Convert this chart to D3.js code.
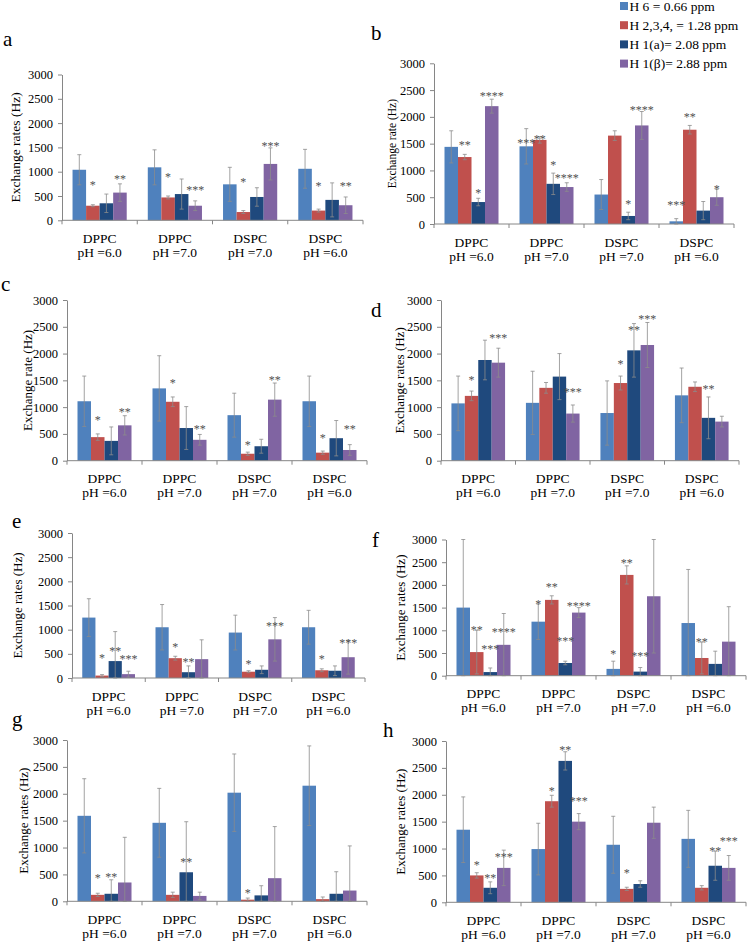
<!DOCTYPE html>
<html><head><meta charset="utf-8">
<script src="https://cdn.jsdelivr.net/npm/d3@7"></script>
<style>body{margin:0;background:#fff}</style>
</head><body>
<svg id="chart" width="750" height="942"></svg>
<script>
// ---------------- DATA ----------------
const categories = [["DPPC","pH =6.0"],["DPPC","pH =7.0"],["DSPC","pH =7.0"],["DSPC","pH =6.0"]];
const seriesNames = ["H 6 = 0.66 ppm","H 2,3,4, = 1.28 ppm","H 1(a)= 2.08 ppm","H 1(β)= 2.88 ppm"];
const yTicks = [0,500,1000,1500,2000,2500,3000];

// values[category][series] in Hz, errors same shape, stars: [category, series, label, level(Hz)]
const valuesA = [[1040,300,350,570],[1090,470,540,300],[740,170,480,1160],[1060,200,420,310]];
const errorsA = [[310,20,190,180],[360,30,310,100],[350,30,190,330],[400,30,350,170]];
const starsA  = [[0,1,"*",760],[0,3,"**",900],[1,1,"*",930],[1,3,"***",670],[2,1,"*",830],[2,3,"***",1570],[3,1,"*",740],[3,3,"**",740]];

const valuesB = [[1440,1250,410,2200],[1450,1570,750,690],[550,1650,150,1840],[50,1760,250,500]];
const errorsB = [[300,50,70,130],[330,60,200,80],[280,90,70,260],[50,80,170,150]];
const starsB  = [[0,1,"**",1506],[0,2,"*",622],[0,3,"****",2427],[1,0,"***",1550],[1,1,"**",1618],[1,2,"*",1133],[1,3,"****",902],[2,2,"*",417],[2,3,"****",2172],[3,0,"***",386],[3,1,"**",2035],[3,3,"*",697]];

const valuesC = [[1110,440,370,660],[1350,1100,610,390],[850,130,270,1140],[1110,150,420,200]];
const errorsC = [[470,60,260,180],[610,90,400,100],[410,30,130,310],[470,30,330,100]];
const starsC  = [[0,1,"*",800],[0,3,"**",950],[1,1,"*",1490],[1,3,"**",620],[2,1,"*",330],[2,3,"**",1553],[3,1,"*",470],[3,3,"**",637]];

const valuesD = [[1070,1210,1880,1830],[1080,1360,1570,880],[890,1450,2060,2160],[1220,1380,800,730]];
const errorsD = [[510,90,370,270],[590,100,430,160],[600,130,500,420],[510,90,390,100]];
const starsD  = [[0,1,"*",1545],[0,3,"***",2331],[1,3,"***",1329],[2,1,"*",1836],[2,2,"**",2486],[2,3,"***",2678],[3,2,"**",1378]];

const valuesE = [[1250,50,350,80],[1050,410,120,390],[940,130,170,800],[1050,160,150,430]];
const errorsE = [[390,20,610,60],[470,40,130,400],[360,20,80,450],[350,30,100,350]];
const starsE  = [[0,1,"*",448],[0,2,"**",607],[0,3,"***",428],[1,1,"*",676],[1,2,"**",380],[2,1,"*",331],[2,3,"***",1125],[3,1,"*",428],[3,3,"***",773]];

const valuesF = [[1500,520,80,680],[1190,1670,280,1390],[150,2220,90,1750],[1160,390,260,750]];
const errorsF = [[1500,480,90,690],[390,90,40,110],[170,200,90,1250],[1180,350,280,770]];
const starsF  = [[0,1,"**",1040],[0,2,"***",637],[0,3,"****",1003],[1,0,"*",1625],[1,1,"**",2007],[1,2,"***",798],[1,3,"****",1588],[2,0,"*",527],[2,1,"**",2536],[2,2,"***",470],[3,1,"**",783]];

const valuesG = [[1590,120,140,350],[1460,120,540,100],[2020,30,110,430],[2150,40,140,200]];
const errorsG = [[690,30,260,840],[640,50,940,70],[720,30,180,960],[740,40,410,830]];
const starsG  = [[0,1,"*",470],[0,2,"**",489],[1,2,"**",767],[2,1,"*",198]];

const valuesH = [[1350,500,270,640],[990,1880,2630,1500],[1070,250,340,1480],[1180,270,680,640]];
const errorsH = [[610,50,110,330],[480,110,170,150],[530,30,60,290],[530,40,270,230]];
const starsH  = [[0,1,"*",728],[0,2,"**",491],[0,3,"***",883],[1,1,"*",2115],[1,2,"**",2874],[1,3,"***",1928],[2,1,"*",591],[3,2,"**",989],[3,3,"***",1176]];

// ---------------- STYLE / LAYOUT ----------------
const colors = ["#4F81BD","#C0504D","#1F497D","#8064A2"];
const FONT = "Liberation Serif, Times New Roman, Times, serif";

const panels = [
 {letter:"a", v:valuesA, e:errorsA, s:starsA, title:"Exchange rates (Hz)", x0:62, x1:363, yZero:220.3, yTop:74.5, tX:15, tSize:13.5, lX:3, lY:46},
 {letter:"b", v:valuesB, e:errorsB, s:starsB, title:"Exchange rate (Hz)", x0:434, x1:734, yZero:224, yTop:63.3, tX:392, tSize:11.5, lX:371, lY:40},
 {letter:"c", v:valuesC, e:errorsC, s:starsC, title:"Exchange rate (Hz)", x0:67, x1:367, yZero:460.7, yTop:300, tX:27, tSize:13, lX:1, lY:291},
 {letter:"d", v:valuesD, e:errorsD, s:starsD, title:"Exchange rates (Hz)", x0:441, x1:739, yZero:460.7, yTop:300, tX:399, tSize:13, lX:371, lY:317},
 {letter:"e", v:valuesE, e:errorsE, s:starsE, title:"Exchange rates (Hz)", x0:72, x1:365, yZero:678, yTop:533, tX:17, tSize:13, lX:12, lY:528},
 {letter:"f", v:valuesF, e:errorsF, s:starsF, title:"Exchange rates (Hz)", x0:446, x1:746, yZero:675.7, yTop:539.5, tX:400, tSize:13, lX:372, lY:547},
 {letter:"g", v:valuesG, e:errorsG, s:starsG, title:"Exchange rates (Hz)", x0:67, x1:367, yZero:901.3, yTop:740, tX:23, tSize:13, lX:12, lY:726},
 {letter:"h", v:valuesH, e:errorsH, s:starsH, title:"Exchange rates (Hz)", x0:446, x1:746, yZero:902.3, yTop:741, tX:400, tSize:13, lX:383, lY:737}
];

const svg = d3.select("#chart");
svg.append("rect").attr("width",750).attr("height",942).attr("fill","#fff");

function drawPanel(p){
  const g = svg.append("g").attr("class","panel-"+p.letter);
  const x = d3.scaleBand().domain(d3.range(categories.length)).range([p.x0,p.x1]);
  const W = x.bandwidth();
  const xs = d3.scaleBand().domain(d3.range(seriesNames.length)).range([W*0.14, W*0.86]);
  const y = d3.scaleLinear().domain([0,3000]).range([p.yZero,p.yTop]);

  // y axis
  const ya = g.append("g").attr("transform",`translate(${p.x0},0)`)
    .call(d3.axisLeft(y).tickValues(yTicks).tickFormat(d3.format("d"))
      .tickSize(4).tickSizeOuter(0).tickPadding(5));
  ya.select(".domain").attr("stroke","#868686");
  ya.selectAll(".tick line").attr("stroke","#868686");
  ya.selectAll(".tick text").attr("font-family",FONT).attr("font-size",12.5).attr("fill","#000");

  // bars
  categories.forEach((c,ci)=>{
    const cg = g.append("g").attr("transform",`translate(${x(ci)},0)`);
    seriesNames.forEach((sn,si)=>{
      const val = p.v[ci][si];
      cg.append("rect").attr("x",xs(si)).attr("width",xs.bandwidth())
        .attr("y",y(val)).attr("height",y(0)-y(val)).attr("fill",colors[si]);
    });
    seriesNames.forEach((sn,si)=>{
      const val = p.v[ci][si], er = p.e[ci][si];
      const cx = xs(si)+xs.bandwidth()/2;
      const lo = Math.max(0,val-er), hi = val+er;
      cg.append("line").attr("x1",cx).attr("x2",cx).attr("y1",y(lo)).attr("y2",y(hi))
        .attr("stroke","#8c8c8c").attr("stroke-width",0.8);
      [hi, lo].forEach(vv=>{
        cg.append("line").attr("x1",cx-2).attr("x2",cx+2).attr("y1",y(vv)).attr("y2",y(vv))
          .attr("stroke","#8c8c8c").attr("stroke-width",0.8);
      });
    });
  });

  // x axis line and ticks
  g.append("line").attr("x1",p.x0).attr("x2",p.x1).attr("y1",y(0)).attr("y2",y(0))
    .attr("stroke","#868686").attr("stroke-width",1);
  d3.range(categories.length+1).forEach(i=>{
    const xx = p.x0 + i*W;
    g.append("line").attr("x1",xx).attr("x2",xx).attr("y1",y(0)).attr("y2",y(0)+4)
      .attr("stroke","#868686");
  });

  // stars
  p.s.forEach(([ci,si,lab,lvl])=>{
    g.append("text").attr("x",x(ci)+xs(si)+xs.bandwidth()/2).attr("y",y(lvl)+6)
      .attr("text-anchor","middle").attr("font-family",FONT).attr("font-size",12)
      .attr("fill","#505050").text(lab);
  });

  // category labels
  categories.forEach((c,ci)=>{
    const cx = x(ci)+W/2;
    c.forEach((line,li)=>{
      g.append("text").attr("x",cx).attr("y",y(0)+22.5+li*14).attr("text-anchor","middle")
        .attr("font-family",FONT).attr("font-size",13.5).attr("fill","#000").text(line);
    });
  });

  // y title
  const ym = (y(0)+y(3000))/2;
  g.append("text").attr("transform",`translate(${p.tX},${ym}) rotate(-90)`)
    .attr("text-anchor","middle").attr("dominant-baseline","central")
    .attr("font-family",FONT).attr("font-size",p.tSize).attr("fill","#000").text(p.title);

  // panel letter
  g.append("text").attr("x",p.lX).attr("y",p.lY).attr("font-family",FONT)
    .attr("font-size",21).attr("fill","#000").text(p.letter);
}
panels.forEach(drawPanel);

// legend
const leg = svg.append("g").attr("class","legend");
seriesNames.forEach((n,i)=>{
  const cy = 6 + i*19.2;
  leg.append("rect").attr("x",620).attr("y",cy-4).attr("width",8).attr("height",8).attr("fill",colors[i]);
  leg.append("text").attr("x",629.5).attr("y",cy).attr("dominant-baseline","central")
    .attr("font-family",FONT).attr("font-size",13.5).attr("fill","#000").text(n);
});
</script>
</body></html>
